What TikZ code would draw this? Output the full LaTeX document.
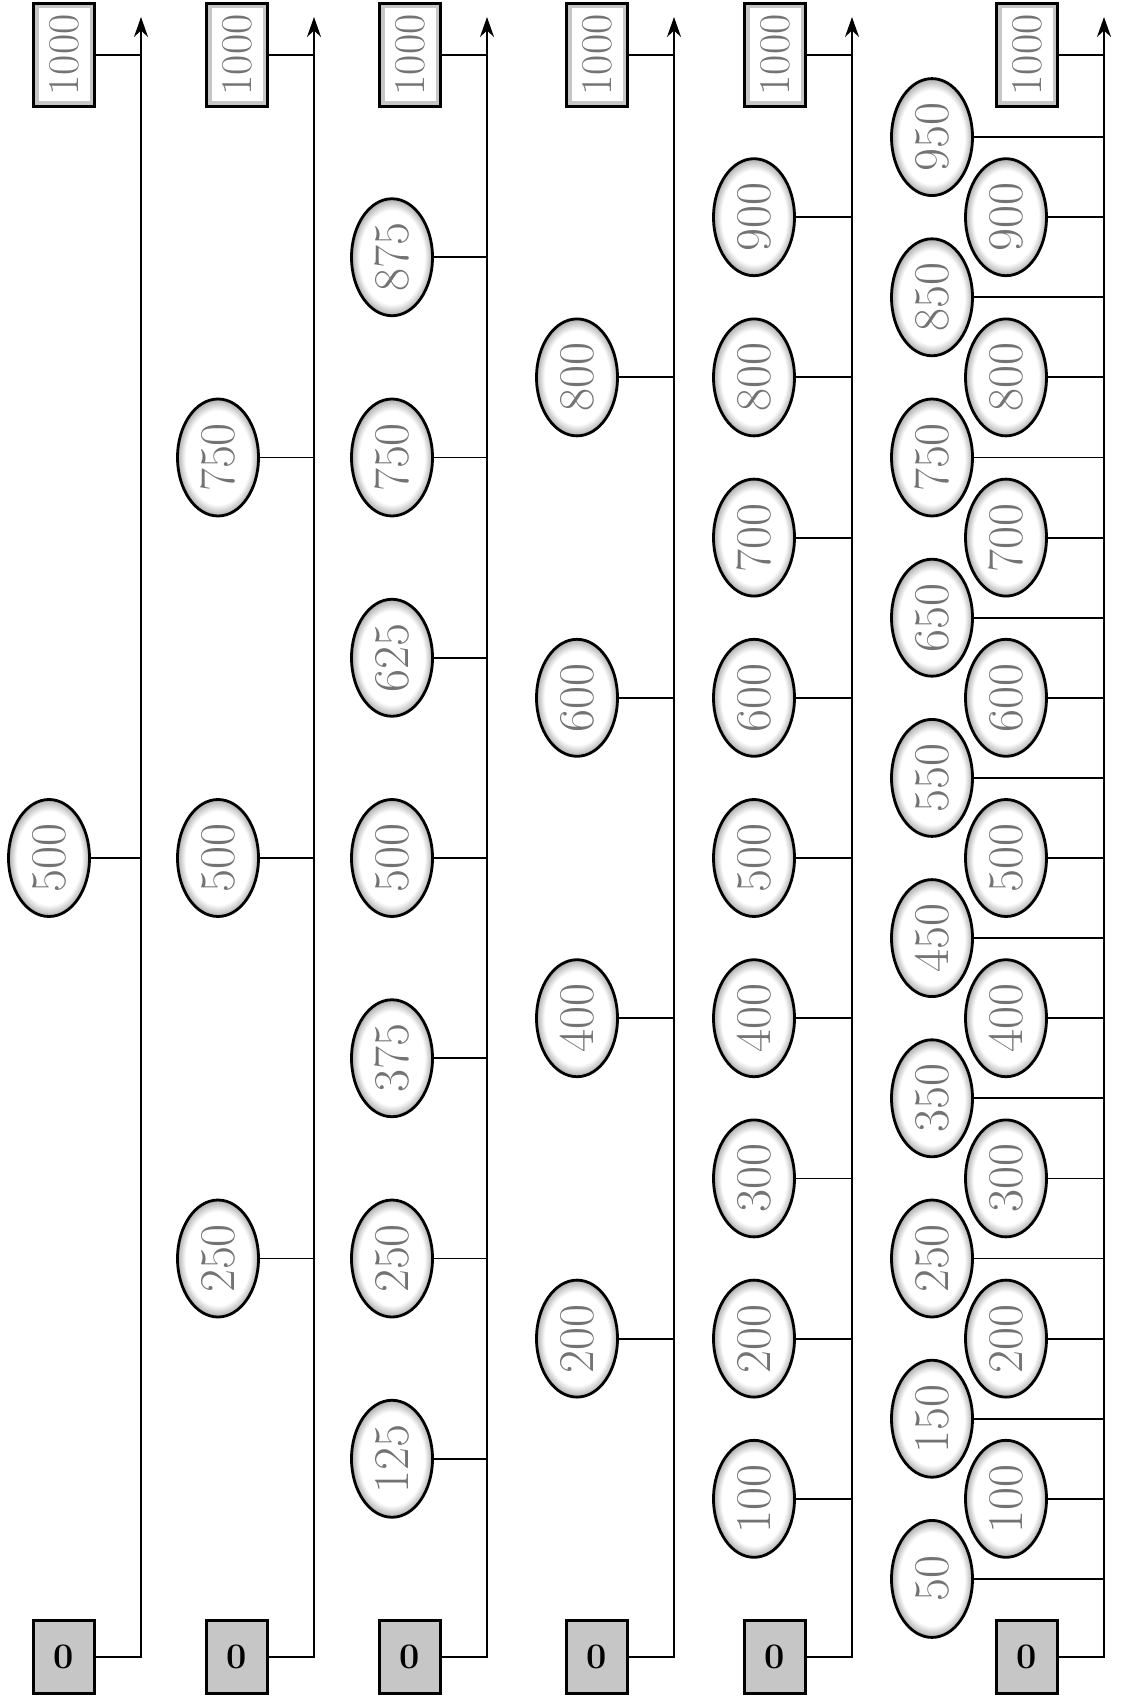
\documentclass[tikz,border=0pt]{standalone}
\usepackage{fontspec,graphicx}
\usetikzlibrary{arrows.meta,shapes.geometric}
\pgfdeclareradialshading{ring}{\pgfpoint{0bp}{0bp}}{color(0bp)=(white); color(20bp)=(white); color(23.5bp)=(gray!45); color(25bp)=(gray!65); color(50bp)=(gray!65)}
\newcommand{\vtxt}[1]{\rotatebox{90}{#1}}

\begin{document}
\begin{tikzpicture}[x=0.5pt,y=-0.5pt,line width=0.9pt,
 val/.style={ellipse,draw,line width=1.4pt,shade,shading=ring,inner sep=0pt,minimum width=40.5pt,minimum height=58.5pt,text=black!55,font=\fontsize{25}{25}\selectfont},
 zero/.style={draw,line width=1.3pt,fill=gray!45,inner sep=0pt,minimum width=30.5pt,minimum height=36.5pt,font=\fontsize{18}{18}\selectfont\bfseries},
 kilo/.style={draw,line width=1.3pt,fill=white,inner sep=0pt,minimum width=30.5pt,minimum height=51.5pt,text=black!55,font=\fontsize{22}{22}\selectfont,
  path picture={\draw[gray!45,line width=5pt](path picture bounding box.south west) rectangle (path picture bounding box.north east);}},
 arr/.style={-{Stealth[length=10pt,width=7pt]}}]
\useasboundingbox (0,0) rectangle (1120,1707);
% line 1: halves
\coordinate (t1) at (141,17);
\node[zero](z1) at (64,1657) {0};
\node[kilo](k1) at (64,55) {\vtxt{1000}};
\draw[arr](z1) -| (t1);
\draw(k1) -- (k1 -| t1);
\foreach \v in {500} {\node[val](a\v) at (49,{1659-1.602*\v}) {\vtxt{\v}}; \draw(a\v) -- (a\v -| t1);}
% line 2: quarters
\coordinate (t2) at (314,17);
\node[zero](z2) at (237,1657) {0};
\node[kilo](k2) at (237,55) {\vtxt{1000}};
\draw[arr](z2) -| (t2);
\draw(k2) -- (k2 -| t2);
\foreach \v in {250,500,750} {\node[val](b\v) at (218,{1659-1.602*\v}) {\vtxt{\v}}; \draw(b\v) -- (b\v -| t2);}
% line 3: eighths
\coordinate (t3) at (487,17);
\node[zero](z3) at (410,1657) {0};
\node[kilo](k3) at (410,55) {\vtxt{1000}};
\draw[arr](z3) -| (t3);
\draw(k3) -- (k3 -| t3);
\foreach \v in {125,250,...,875} {\node[val](c\v) at (392,{1659-1.602*\v}) {\vtxt{\v}}; \draw(c\v) -- (c\v -| t3);}
% line 4: fifths
\coordinate (t4) at (674,17);
\node[zero](z4) at (597,1657) {0};
\node[kilo](k4) at (597,55) {\vtxt{1000}};
\draw[arr](z4) -| (t4);
\draw(k4) -- (k4 -| t4);
\foreach \v in {200,400,600,800} {\node[val](d\v) at (577,{1659-1.602*\v}) {\vtxt{\v}}; \draw(d\v) -- (d\v -| t4);}
% line 5: tenths
\coordinate (t5) at (852,17);
\node[zero](z5) at (775,1657) {0};
\node[kilo](k5) at (775,55) {\vtxt{1000}};
\draw[arr](z5) -| (t5);
\draw(k5) -- (k5 -| t5);
\foreach \v in {100,200,...,900} {\node[val](e\v) at (754,{1659-1.602*\v}) {\vtxt{\v}}; \draw(e\v) -- (e\v -| t5);}
% line 6: twentieths, two columns
\coordinate (t6) at (1104,17);
\node[zero](z6) at (1027,1657) {0};
\node[kilo](k6) at (1027,55) {\vtxt{1000}};
\draw[arr](z6) -| (t6);
\draw(k6) -- (k6 -| t6);
\foreach \v in {100,200,...,900} {\node[val](f\v) at (1006,{1659-1.602*\v}) {\vtxt{\v}}; \draw(f\v) -- (f\v -| t6);}
\foreach \v in {50,150,...,950} {\node[val](f\v) at (932,{1659-1.602*\v}) {\vtxt{\v}}; \draw(f\v) -- (f\v -| t6);}
\end{tikzpicture}
\end{document}
